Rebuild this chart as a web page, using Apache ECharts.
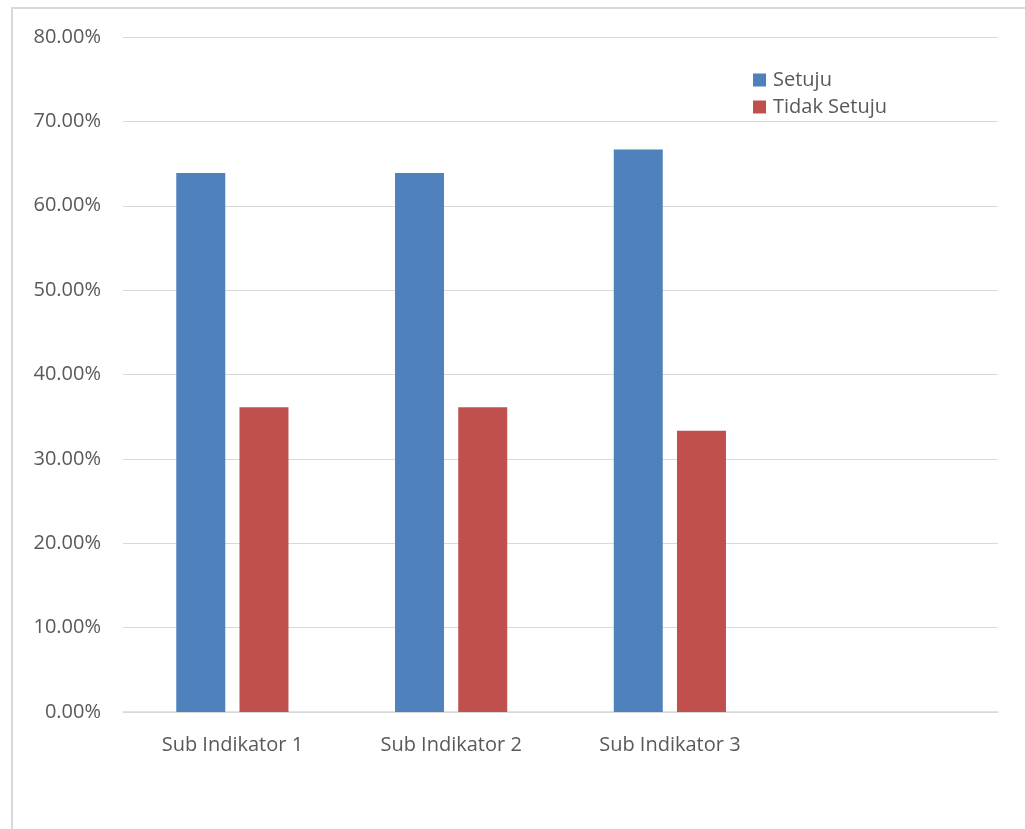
<!DOCTYPE html>
<html>
<head>
<meta charset="utf-8">
<script src="https://cdn.jsdelivr.net/npm/echarts@6/dist/echarts.min.js"></script>
<style>
  html, body { margin: 0; padding: 0; background: #fff; overflow: hidden; width: 1025px; height: 829px; }
  .frame {
    position: absolute; left: 11px; top: 7px; width: 1100px; height: 900px;
    border-left: 2px solid #d9d9d9; border-top: 2px solid #d9d9d9;
    box-sizing: border-box;
  }
  #chart { position: absolute; left: 0; top: 0; width: 1025px; height: 829px; }
</style>
</head>
<body>
<div class="frame"></div>
<div id="chart"></div>
<script>
const categories = ['Sub Indikator 1', 'Sub Indikator 2', 'Sub Indikator 3', ''];
const setuju = [63.89, 63.89, 66.67, null];
const tidakSetuju = [36.11, 36.11, 33.33, null];

const textColor = '#595959';
const font = '"Open Sans", "Noto Sans", sans-serif';

const myChart = echarts.init(document.getElementById('chart'));
myChart.setOption({
  animation: false,
  textStyle: { fontFamily: font },
  legend: {
    orient: 'vertical',
    left: 748,
    top: 65,
    icon: 'rect',
    itemWidth: 13,
    itemHeight: 13,
    itemGap: 7,
    textStyle: { color: textColor, fontSize: 20, fontFamily: font, padding: [0, 0, 0, 2] }
  },
  grid: { left: 123, right: 27, top: 37, bottom: 117, containLabel: false },
  xAxis: {
    type: 'category',
    data: categories,
    axisLine: { lineStyle: { color: '#d9d9d9', width: 1.5 } },
    axisTick: { show: false },
    axisLabel: { color: textColor, fontSize: 20, margin: 23, fontFamily: font }
  },
  yAxis: {
    type: 'value',
    min: 0,
    max: 80,
    interval: 10,
    axisLine: { show: false },
    axisTick: { show: false },
    splitLine: { lineStyle: { color: '#d9d9d9', width: 1.2 } },
    axisLabel: {
      color: textColor, fontSize: 20, margin: 22, fontFamily: font,
      formatter: (v) => v.toFixed(2) + '%'
    }
  },
  series: [
    {
      name: 'Setuju', type: 'bar', data: setuju,
      barWidth: 49, barGap: '29%',
      itemStyle: { color: '#4f81bd' }
    },
    {
      name: 'Tidak Setuju', type: 'bar', data: tidakSetuju,
      barWidth: 49,
      itemStyle: { color: '#c0504d' }
    }
  ]
});
</script>
</body>
</html>
